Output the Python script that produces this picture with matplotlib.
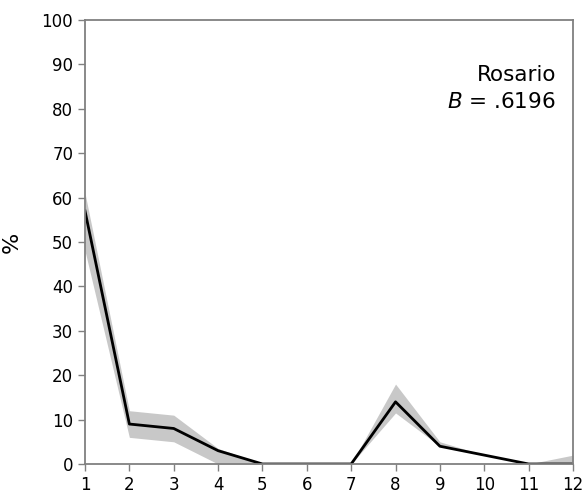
import numpy as np
import matplotlib.pyplot as plt

x = np.arange(1, 13)
media = [57, 9, 8, 3, 0, 0, 0, 14, 4, 2, 0, 0]
inferior = [48, 6, 5, 0, 0, 0, 0, 11.5, 4, 2, 0, 0]
superior = [61, 12, 11, 3.5, 0, 0, 0, 18, 5, 2, 0, 2]

plt.rcParams['font.family'] = 'DejaVu Sans'
fig = plt.figure(figsize=(5.85, 4.98), dpi=100)
ax = fig.add_axes([85/585, 34/498, 488/585, 444/498])

ax.fill_between(x, inferior, superior, color='#c8c8c8', lw=0)
ax.plot(x, media, color='black', lw=2)

ax.set_xlim(1, 12)
ax.set_ylim(0, 100)
ax.set_xticks(x)
ax.set_yticks(np.arange(0, 101, 10))
for s in ax.spines.values():
    s.set_color('#808080')
    s.set_linewidth(1.3)
ax.tick_params(colors='#808080', labelcolor='black', labelsize=12, length=5, width=1)
ax.set_ylabel('%', fontsize=16, labelpad=14)

ax.text(0.965, 0.876, 'Rosario', transform=ax.transAxes, ha='right', va='center', fontsize=15.5)
ax.text(0.965, 0.815, '$B$ = .6196', transform=ax.transAxes, ha='right', va='center', fontsize=15.5)

plt.savefig('out.png', dpi=100)
